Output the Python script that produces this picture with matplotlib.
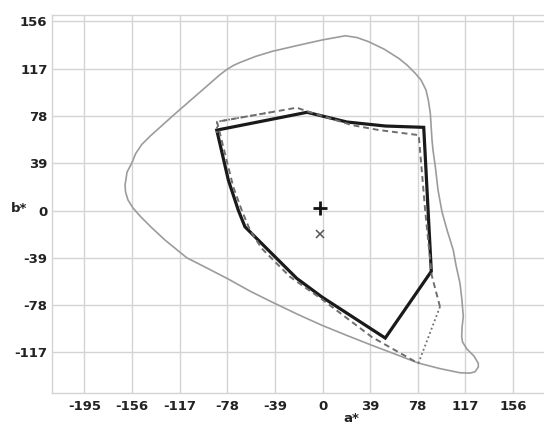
import matplotlib
matplotlib.use("Agg")
import matplotlib.pyplot as plt

plt.rcParams["axes.unicode_minus"] = False

# Axis ticks (CIELAB a*, b*)
ticks_a = [-195, -156, -117, -78, -39, 0, 39, 78, 117, 156]
ticks_b = [-117, -78, -39, 0, 39, 78, 117, 156]

# Outer boundary (visible colours), traced clockwise from the top
locus_a = [18.7, 28.3, 37.8, 50.4, 62.4, 69.2, 76.0, 80.7, 84.8, 86.8, 88.3, 88.9,
           89.7, 90.5, 92.4, 94.6, 97.9, 102.0, 107.1, 109.3, 112.6, 114.2, 115.3,
           114.3, 114.0, 114.7, 118.3, 124.1, 127.6, 127.6, 124.9, 120.8, 112.6,
           96.2, 78.5, 59.4, 40.5, 20.1, -0.4, -20.9, -41.4, -59.4, -77.1, -94.6,
           -111.2, -129.0, -139.6, -148.6, -155.2, -159.3, -161.3, -161.7, -160.1,
           -156.3, -153.0, -148.0, -141.0, -122.2, -100.3, -84.0, -78.5, -73.0,
           -68.0, -55.0, -41.4, -20.9, -0.4]
locus_b = [144.1, 142.6, 139.2, 133.1, 125.5, 120.0, 113.1, 107.6, 99.3, 90.3, 80.1, 70.5,
           58.1, 49.9, 36.1, 16.9, -1.2, -16.1, -32.6, -44.9, -60.0, -73.8, -87.6,
           -96.0, -104.0, -108.4, -114.2, -120.0, -126.0, -129.0, -132.9, -134.0, -133.7,
           -130.3, -125.7, -118.3, -111.1, -103.0, -94.6, -85.3, -75.4, -66.4, -56.5, -47.4,
           -38.9, -24.3, -14.4, -5.4, 2.1, 8.7, 15.3, 21.0, 31.7,
           38.9, 47.0, 54.5, 61.5, 78.5, 97.7, 112.0, 116.2, 119.6,
           121.9, 127.0, 131.2, 136.0, 140.6]

# Main gamut (solid black)
gamut_a = [-86.6, -12.7, 20.0, 51.4, 82.9, 89.1, 51.4, -0.4, -21.1, -41.4, -63.5, -69.0, -77.1]
gamut_b = [66.3, 81.0, 73.0, 69.7, 68.6, -50.1, -105.1, -71.3, -55.9, -35.6, -13.4, 0.4, 25.1]

# Reference gamut (dashed part)
ref_dash_a = [96.2, 89.4, 84.2, 78.8, 46.0, 24.2, -10.0, -21.1, -86.4, -73.1, -66.2,
              -59.4, -49.8, -26.6, -0.4, 40.5, 78.5]
ref_dash_b = [-79.3, -53.2, -1.2, 62.2, 66.4, 70.4, 81.0, 84.8, 73.2, 19.6, 0.4,
              -16.1, -31.2, -54.6, -73.2, -104.3, -126.0]

# Reference gamut (dotted parts)
ref_dot1_a = [96.2, 78.5]
ref_dot1_b = [-79.3, -126.0]
ref_dot2_a = [-86.4, -86.4, -40.0]
ref_dot2_b = [64.0, 73.2, 81.5]

# White point markers
white_a = [-2.0]
white_b = [1.8]
source_a = [-2.0]
source_b = [-19.4]

fig = plt.figure(figsize=(5.44, 4.23), dpi=100)
ax = fig.add_axes([0.095, 0.0709, 0.905, 0.8936])
ax.set_xlim(-221.8, 181.4)
ax.set_ylim(-150.4, 161.2)

grid_c = "#d4d4d4"
ax.set_xticks(ticks_a)
ax.set_yticks(ticks_b)
ax.grid(True, color=grid_c, linewidth=1.0)
ax.set_axisbelow(True)
for side in ("left", "bottom", "top"):
    ax.spines[side].set_color(grid_c)
    ax.spines[side].set_linewidth(1.0)
ax.spines["right"].set_visible(False)

ax.tick_params(length=0, labelsize=9.5, labelcolor="#222222")
ax.tick_params(axis="x", pad=5)
ax.tick_params(axis="y", pad=3)
for lab in ax.get_xticklabels() + ax.get_yticklabels():
    lab.set_fontweight("bold")

ax.fill(locus_a, locus_b, fill=False, edgecolor="#9c9c9c", linewidth=1.2)
ax.plot(ref_dash_a, ref_dash_b, color="#6e6e6e", linewidth=1.4,
        linestyle=(0, (3, 2)))
ax.plot(ref_dot1_a, ref_dot1_b, color="#6e6e6e", linewidth=1.3, linestyle=(0, (1, 1.5)))
ax.plot(ref_dot2_a, ref_dot2_b, color="#6e6e6e", linewidth=1.3, linestyle=(0, (1, 1.5)))
ax.fill(gamut_a, gamut_b, fill=False, edgecolor="#1a1a1a", linewidth=2.3,
        joinstyle="miter")

ax.plot(white_a, white_b, marker="+", color="#111111", markersize=10, mew=2.0,
        linestyle="none")
ax.plot(source_a, source_b, marker="x", color="#555555", markersize=6, mew=1.1,
        linestyle="none")

fig.text(19 / 544, 1 - 208 / 423, "b*", fontsize=9.5, fontweight="bold",
         color="#222222", ha="center", va="center")
fig.text(351 / 544, 1 - 418 / 423, "a*", fontsize=9.5, fontweight="bold",
         color="#222222", ha="center", va="center")

fig.savefig("out.png", dpi=100)
